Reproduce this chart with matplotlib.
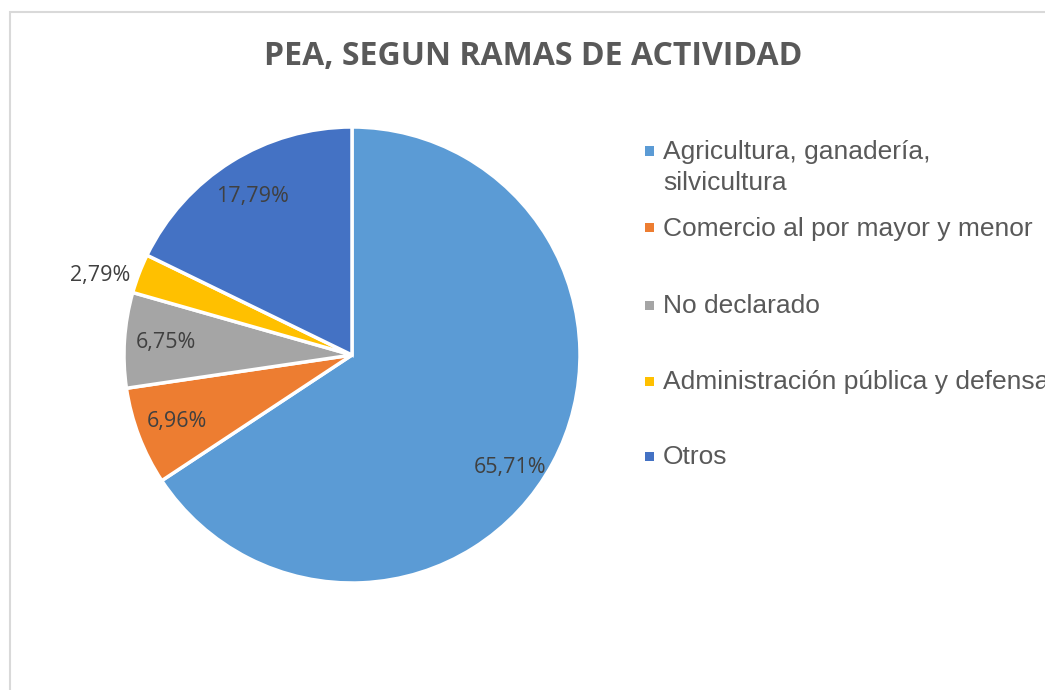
import matplotlib
matplotlib.use("Agg")
import matplotlib.pyplot as plt
from matplotlib.patches import Rectangle

# data
categories = ["Agricultura, ganadería,\nsilvicultura", "Comercio al por mayor y menor",
              "No declarado", "Administración pública y defensa", "Otros"]
values = [65.71, 6.96, 6.75, 2.79, 17.79]
colors = ["#5b9bd5", "#ed7d31", "#a5a5a5", "#ffc000", "#4472c4"]
title = "PEA, SEGUN RAMAS DE ACTIVIDAD"

W, H = 1045, 690
fig = plt.figure(figsize=(W / 100, H / 100), dpi=100)
fig.patch.set_facecolor("white")

# chart border (right and bottom edges fall outside the picture)
fig.patches.append(Rectangle((10 / W, -0.1), 1.2, 1 - 12 / H + 0.1, transform=fig.transFigure,
                             fill=False, edgecolor="#d9d9d9", lw=1.5))

fig.text(533 / W, 1 - 65 / H, title, ha="center", va="baseline", fontsize=23,
         fontweight="bold", color="#595959", family="Open Sans")

# pie axes: centre (352, 355), radius 228 px
cx, cy, r = 352, 355, 228
ax = fig.add_axes([(cx - r) / W, 1 - (cy + r) / H, 2 * r / W, 2 * r / H])
ax.set_aspect("equal")
wedges, texts, autotexts = ax.pie(
    values, colors=colors, startangle=90, counterclock=False, radius=1,
    autopct=lambda p: f"{p:.2f}%".replace(".", ","), pctdistance=0.82,
    wedgeprops=dict(edgecolor="white", linewidth=2.5),
    textprops=dict(fontsize=15.5, color="#404040", family="Open Sans"))
ax.set_xlim(-1, 1)
ax.set_ylim(-1, 1)

# best-fit label positions as in the original
autotexts[0].set_position((158 / r, -112 / r))
autotexts[3].set_position((-252 / r, 80 / r))

# legend drawn by hand
baselines = [159, 236, 313, 389, 464]
for lab, col, yb in zip(categories, colors, baselines):
    lines = lab.split("\n")
    ym = yb - 8
    fig.patches.append(Rectangle((645 / W, 1 - (ym + 4.5) / H), 9 / W, 9 / H,
                                 transform=fig.transFigure, facecolor=col, edgecolor="none"))
    for k, ln in enumerate(lines):
        fig.text(663 / W, 1 - (yb + 31 * k) / H, ln, ha="left", va="baseline",
                 fontsize=19, color="#595959", family="Liberation Sans")

fig.savefig("out.png", dpi=100)
